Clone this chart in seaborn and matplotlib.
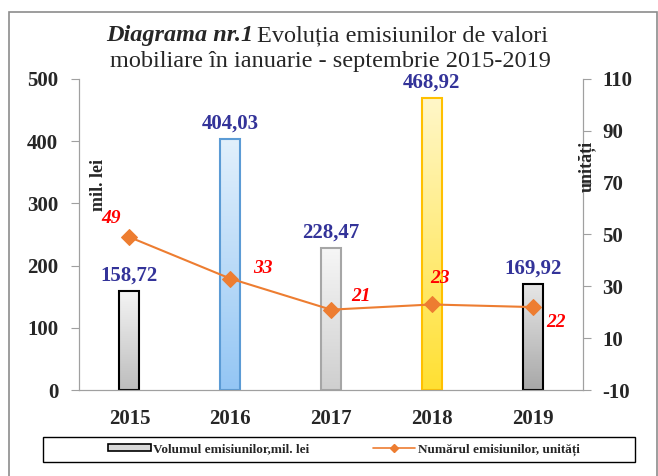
import numpy as np
import pandas as pd
import seaborn as sns
import matplotlib.pyplot as plt
from matplotlib.colors import LinearSegmentedColormap
from matplotlib.lines import Line2D
from matplotlib.patches import Patch, Rectangle

years = ["2015", "2016", "2017", "2018", "2019"]
volume = [158.72, 404.03, 228.47, 468.92, 169.92]
count = [49, 33, 21, 23, 22]
volume_labels = ["158,72", "404,03", "228,47", "468,92", "169,92"]

# gradient (top, bottom) and edge colour of each bar
bar_top = ["#f4f4f4", "#e2f0fc", "#f6f6f6", "#fff7c8", "#e6e6e6"]
bar_bottom = ["#bdbdbd", "#94c6f4", "#cfcfcf", "#ffe033", "#a8a8a8"]
bar_edge = ["#000000", "#5b9bd5", "#a6a6a6", "#ffc000", "#000000"]

sns.set_style("white")
plt.rcParams["font.family"] = ["Liberation Serif", "DejaVu Serif"]
plt.rcParams["axes.unicode_minus"] = False

fig = plt.figure(figsize=(6.58, 4.76), dpi=100)
# plot area: x 79..583 px, y 79..390 px
ax = fig.add_axes([79 / 658, 1 - 390 / 476, 504 / 658, 311 / 476])

df = pd.DataFrame({"year": years, "volume": volume})
sns.barplot(data=df, x="year", y="volume", color="#cccccc", width=0.2,
            linewidth=1.5, ax=ax, zorder=2)

for i, p in enumerate(ax.patches):
    p.set_edgecolor(bar_edge[i])
    p.set_facecolor("none")
    x0, w, h = p.get_x(), p.get_width(), p.get_height()
    cmap = LinearSegmentedColormap.from_list("g", [bar_bottom[i], bar_top[i]])
    grad = np.linspace(0, 1, 100).reshape(-1, 1)
    im = ax.imshow(grad, cmap=cmap, aspect="auto", origin="lower",
                   extent=(x0, x0 + w, 0, h), zorder=1)
    im.set_clip_path(p)
    ax.text(i, h + 9, volume_labels[i], ha="center", va="bottom",
            fontsize=15, fontweight="bold", color="#333399")

ax.set_xlim(-0.5, 4.5)
ax.set_ylim(0, 500)
ax.set_yticks(range(0, 501, 100))
ax.set_xlabel("")
ax.set_ylabel("")
ax.tick_params(axis="y", direction="out", length=6, color="#a0a0a0",
               labelsize=15, pad=9, left=True)
ax.tick_params(axis="x", length=0, labelsize=15, pad=14)
for lab in ax.get_xticklabels() + ax.get_yticklabels():
    lab.set_fontweight("bold")
for s in ["left", "bottom", "right"]:
    ax.spines[s].set_color("#a0a0a0")
ax.spines["top"].set_visible(False)
ax.text(0.038, 0.66, "mil. lei", transform=ax.transAxes, rotation=90,
        ha="center", va="center", fontsize=13, fontweight="bold")

ax2 = ax.twinx()
sns.lineplot(x=np.arange(len(years)), y=count, ax=ax2, color="#ed7d31",
             linewidth=1.5, marker="D", markersize=8, markeredgecolor="#ed7d31")
ax2.set_ylim(-10, 110)
ax2.set_yticks(range(-10, 111, 20))
ax2.set_xlim(-0.5, 4.5)
ax2.tick_params(axis="y", direction="out", length=6, color="#a0a0a0",
                labelsize=15, pad=8, right=True)
for lab in ax2.get_yticklabels():
    lab.set_fontweight("bold")
for s in ["left", "bottom", "right"]:
    ax2.spines[s].set_color("#a0a0a0")
ax2.spines["top"].set_visible(False)
ax2.text(1.008, 0.72, "unități", transform=ax2.transAxes, rotation=90,
         ha="center", va="center", fontsize=13, fontweight="bold")

offsets = [(-0.18, 7), (0.32, 4), (0.3, 5), (0.08, 10), (0.23, -6)]
for i, c in enumerate(count):
    dx, dy = offsets[i]
    ax2.text(i + dx, c + dy, str(c), ha="center", va="center", fontsize=14,
             fontweight="bold", fontstyle="italic", color="#ff0000")

# title: bold-italic part followed by regular text
fig.text(253 / 658, 1 - 36 / 476, "Diagrama nr.1", ha="right", va="center",
         fontsize=17.5, fontweight="bold", fontstyle="italic")
fig.text(257 / 658, 1 - 36 / 476, "Evoluția emisiunilor de valori", ha="left",
         va="center", fontsize=17.5)
fig.text(330 / 658, 1 - 61 / 476, "mobiliare în ianuarie - septembrie 2015-2019",
         ha="center", va="center", fontsize=17.5)

handles = [
    Patch(facecolor="#d9d9d9", edgecolor="black", linewidth=1.2),
    Line2D([], [], color="#ed7d31", marker="D", markersize=4, linewidth=1.2),
]
fig.legend(handles, ["Volumul emisiunilor,mil. lei",
                     "Numărul emisiunilor, unități"],
           loc="center", bbox_to_anchor=(344 / 658, 1 - 449.5 / 476), ncol=2,
           frameon=False, prop={"weight": "bold", "size": 9.5},
           columnspacing=4.8, handlelength=3.2, handleheight=0.5,
           handletextpad=0.2)
fig.add_artist(Rectangle((42.7 / 658, 1 - 462 / 476), 592 / 658, 25 / 476,
                         transform=fig.transFigure, fill=False,
                         edgecolor="black", linewidth=1.0))

# outer chart frame
fig.add_artist(Rectangle((0.013, -0.05), 0.985, 1.025, transform=fig.transFigure,
                         fill=False, edgecolor="#8c8c8c", linewidth=1.2))

fig.savefig("out.png", dpi=100)
